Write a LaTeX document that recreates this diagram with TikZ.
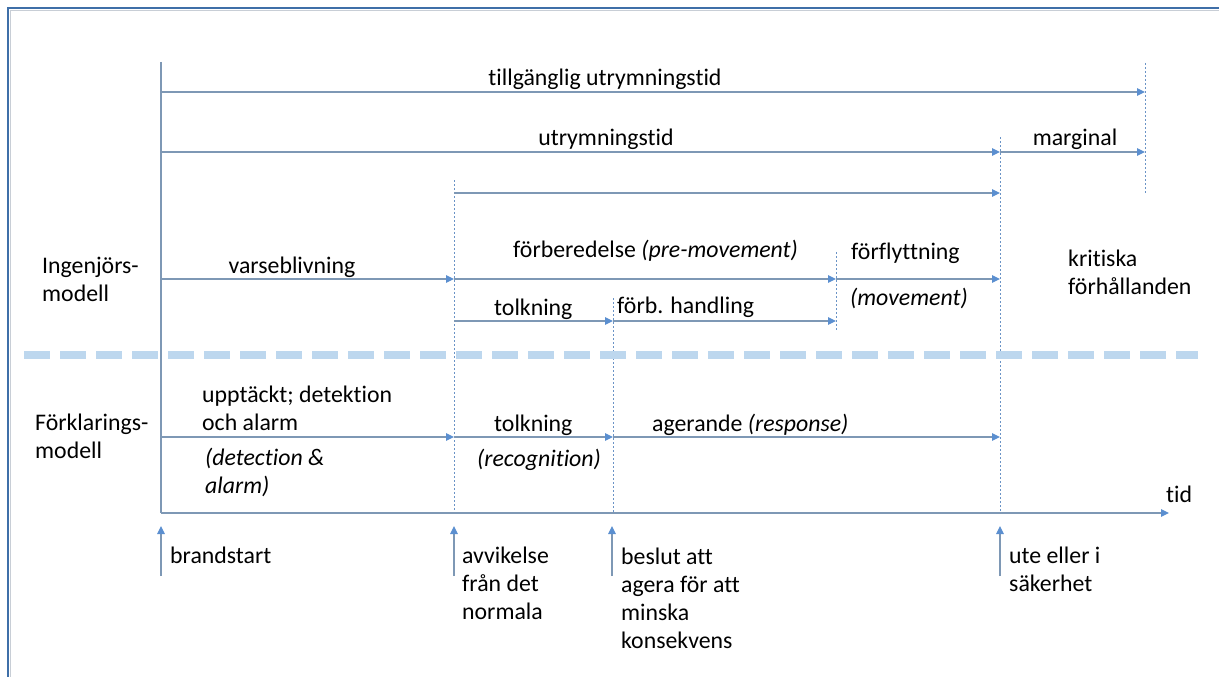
\documentclass[tikz,border=0pt]{standalone}
\usepackage{fontspec}
\setmainfont[Ligatures=NoCommon]{Carlito}
\usetikzlibrary{arrows.meta}
\definecolor{framecol}{HTML}{3F6FA8}
\definecolor{framein}{HTML}{C8CED6}
\definecolor{linecol}{HTML}{7E98B5}
\definecolor{tipcol}{HTML}{5B8FD0}
\definecolor{dotcol}{HTML}{6A93C6}
\definecolor{sepcol}{HTML}{BDD7EE}
\newcommand\mlines[1]{\begin{tabular}[t]{@{}l@{}}#1\end{tabular}}
\begin{document}
\begin{tikzpicture}[x=1pt,y=-1pt,
 every node/.style={font=\fontsize{23.8}{28}\selectfont, inner sep=0pt, text=black},
 lbl/.style={anchor=base west},
 clbl/.style={anchor=base},
 tarrow/.style={draw=linecol, line width=1.2pt, -{Triangle[length=8pt,width=7.5pt,color=tipcol]}},
 tline/.style={draw=linecol, line width=1.2pt},
 guide/.style={draw=dotcol, line width=0.9pt, dash pattern=on 2pt off 2pt},
 sepline/.style={draw=sepcol, line width=8pt, dash pattern=on 26pt off 10pt},
 framebox/.style={draw=framecol, line width=2.2pt},
 frameinner/.style={draw=framein, line width=1pt}]
\useasboundingbox (0,0) rectangle (1219,677);
% frame
\draw[framebox] (8,677) -- (8,8) -- (1219,8);
\draw[frameinner] (10.5,677) -- (10.5,10.5) -- (1219,10.5);

% key coordinates
\coordinate (vtop) at (161,62);
\coordinate (ax0) at (161,513);
\coordinate (ax1) at (1169,513);

\coordinate (r1a) at (161,92);   \coordinate (r1b) at (1145,92);
\coordinate (r2a) at (161,152);  \coordinate (r2b) at (1000,152);
\coordinate (r2c) at (1145,152);
\coordinate (r3a) at (454,193);  \coordinate (r3b) at (1000,193);
\coordinate (r4a) at (161,279);  \coordinate (r4b) at (454,279);
\coordinate (r4c) at (836,279);  \coordinate (r4d) at (1000,279);
\coordinate (r5a) at (454,321);  \coordinate (r5b) at (613,321);
\coordinate (r5c) at (836,321);
\coordinate (r6a) at (161,437);  \coordinate (r6b) at (454,437);
\coordinate (r6c) at (613,437);  \coordinate (r6d) at (1000,437);

% guides (dotted)
\coordinate (g1t) at (1145,63);  \coordinate (g1b) at (1145,194);
\coordinate (g2t) at (1000,137); \coordinate (g2b) at (1000,513);
\coordinate (g3t) at (454,180);  \coordinate (g3b) at (454,513);
\coordinate (g4t) at (836,252);  \coordinate (g4b) at (836,330);
\coordinate (g5t) at (613,298);  \coordinate (g5b) at (613,513);
\draw[guide] (g1t) -- (g1b);
\draw[guide] (g2t) -- (g2b);
\draw[guide] (g3t) -- (g3b);
\draw[guide] (g4t) -- (g4b);
\draw[guide] (g5t) -- (g5b);

% separator
\coordinate (s0) at (24,355); \coordinate (s1) at (1198,355);
\draw[sepline] (s0) -- (s1);

% main vertical and time axis
\draw[tline] (vtop) -- (ax0);
\draw[tarrow] (ax0) -- (ax1);

% arrows
\draw[tarrow] (r1a) -- (r1b);
\draw[tarrow] (r2a) -- (r2b);
\draw[tarrow] (r2b) -- (r2c);
\draw[tarrow] (r3a) -- (r3b);
\draw[tarrow] (r4a) -- (r4b);
\draw[tarrow] (r4b) -- (r4c);
\draw[tarrow] (r4c) -- (r4d);
\draw[tarrow] (r5a) -- (r5b);
\draw[tarrow] (r5b) -- (r5c);
\draw[tarrow] (r6a) -- (r6b);
\draw[tarrow] (r6b) -- (r6c);
\draw[tarrow] (r6c) -- (r6d);

% bottom event arrows
\coordinate (e1b) at (161,576);  \coordinate (e1t) at (161,526);
\coordinate (e2b) at (454,576);  \coordinate (e2t) at (454,526);
\coordinate (e3b) at (612,576);  \coordinate (e3t) at (612,526);
\coordinate (e4b) at (1000,576); \coordinate (e4t) at (1000,526);
\draw[tarrow] (e1b) -- (e1t);
\draw[tarrow] (e2b) -- (e2t);
\draw[tarrow] (e3b) -- (e3t);
\draw[tarrow] (e4b) -- (e4t);

% labels
\node[clbl] (l1) at (605,85) {tillgänglig utrymningstid};
\node[clbl] (l2) at (606,145) {utrymningstid};
\node[clbl] (l3) at (1075,145) {marginal};
\node[clbl] (l4) at (292,273) {varseblivning};
\node[lbl] (l5) at (513,257) {förberedelse \textit{(pre-movement)}};
\node[lbl] (l6) at (851,259) {förflyttning};
\node[lbl] (l7) at (850,305) {\textit{(movement)}};
\node[lbl] (l8) at (494,315) {tolkning};
\node[lbl] (l9) at (617,313) {förb. handling};
\node[lbl] (l10) at (1068,266) {\mlines{kritiska\\förhållanden}};
\node[lbl] (l11) at (42,273) {\mlines{Ingenjörs-\\modell}};
\node[lbl] (l12) at (35,430) {\mlines{Förklarings-\\modell}};
\node[lbl] (l13) at (202,402) {\mlines{upptäckt; detektion\\och alarm}};
\node[lbl] (l14) at (205,465) {\mlines{\textit{(detection \&}\\\textit{alarm)}}};
\node[lbl] (l15) at (494,431) {tolkning};
\node[lbl] (l16) at (477,466) {\textit{(recognition)}};
\node[lbl] (l17) at (652,431) {agerande \textit{(response)}};
\node[lbl] (l18) at (1166,502) {tid};
\node[lbl] (l19) at (170,563) {brandstart};
\node[lbl] (l20) at (462,563) {\mlines{avvikelse\\från det\\normala}};
\node[lbl] (l21) at (621,564) {\mlines{beslut att\\agera för att\\minska\\konsekvens}};
\node[lbl] (l22) at (1009,563) {\mlines{ute eller i\\säkerhet}};
\end{tikzpicture}
\end{document}
